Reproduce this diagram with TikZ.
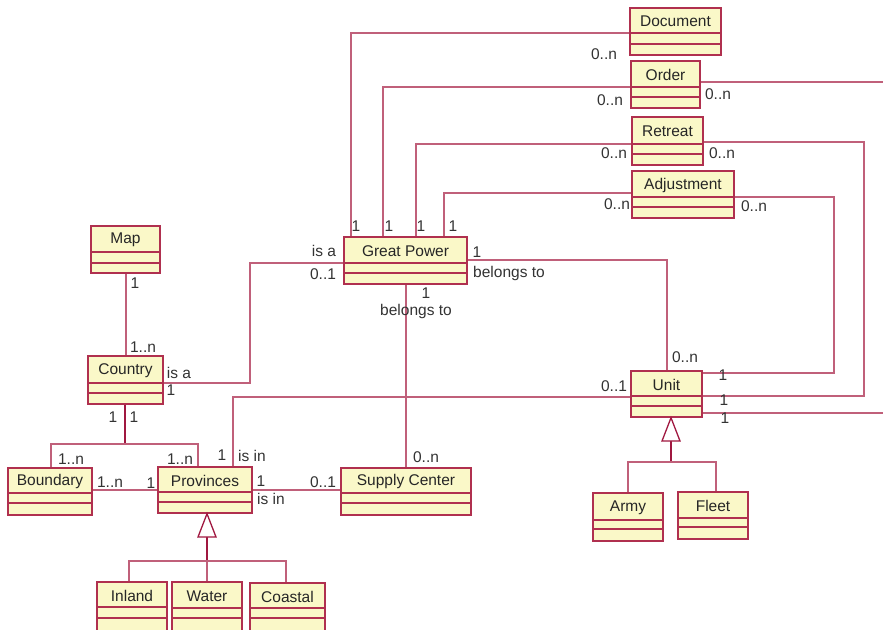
\documentclass[tikz,border=0pt]{standalone}
\usepackage{fontspec}
\setmainfont{Liberation Sans}
\usetikzlibrary{fit}
\definecolor{boxfill}{HTML}{FAF8C8}
\definecolor{boxline}{HTML}{B0304F}
\definecolor{conn}{HTML}{C0607A}
\definecolor{thickc}{HTML}{A01840}
\tikzset{
  boxbg/.style={fill=boxfill},
  sepline/.style={draw=boxline, line width=1.3pt},
  boxframe/.style={draw=boxline, line width=1.5pt, inner sep=0pt, fill=none},
  title/.style={font=\fontsize{15.5}{18}\selectfont, inner sep=0pt, text=black!85},
  lbl/.style={font=\fontsize{15.5}{18}\selectfont, inner sep=0pt, text=black!80},
  link/.style={draw=conn, line width=1.2pt},
  thicklink/.style={draw=thickc, line width=2.6pt},
  gentri/.style={draw=thickc, line width=1.3pt, fill=white},
}
\newcommand\umlbox[8]{%
  \path[boxbg] (#2,#3) rectangle (#4,#5);
  \draw[sepline] (#2,#6) -- (#4,#6) (#2,#7) -- (#4,#7);
  \node[boxframe, fit={(#2,#3)(#4,#5)}] (#1) {};
  \node[title] (#1t) at ({(#2+#4)/2},{(#3+#6)/2+1}) {#8};
}
\begin{document}
\begin{tikzpicture}[x=1pt,y=-1pt]
\useasboundingbox[fill=white] (0,0) rectangle (883,629);
% connectors first
\draw[link] (630,33) -- (351,33) -- (351,237);
\draw[link] (631,87) -- (383,87) -- (383,237);
\draw[link] (632,144) -- (416,144) -- (416,237);
\draw[link] (632,193) -- (444,193) -- (444,237);
% boxes
\umlbox{doc}{630}{8}{721}{55}{33}{44}{Document}
\umlbox{order}{631}{61}{700}{108}{87}{97}{Order}
\umlbox{ret}{632}{117}{703}{165}{144}{154}{Retreat}
\umlbox{adj}{632}{171}{734}{218}{197}{207}{Adjustment}
\umlbox{gp}{344}{237}{467}{284}{263}{273}{Great Power}
\umlbox{map}{91}{226}{160}{273}{252}{263}{Map}
\umlbox{country}{88}{356}{163}{404}{383}{393}{Country}
\umlbox{unit}{631}{371}{702}{417}{396}{406}{Unit}
\umlbox{bnd}{8}{468}{92}{515}{493}{503}{Boundary}
\umlbox{prov}{158}{467}{252}{513}{492}{502}{Provinces}
\umlbox{sc}{341}{468}{471}{515}{493}{503}{Supply Center}
\umlbox{inland}{97}{582}{167}{640}{607}{618}{Inland}
\umlbox{water}{172}{582}{242}{640}{608}{618}{Water}
\umlbox{coastal}{250}{583}{325}{640}{608}{618}{Coastal}
\umlbox{army}{593}{493}{663}{541}{520}{529}{Army}
\umlbox{fleet}{678}{492}{748}{539}{518}{527}{Fleet}
\coordinate (orderR) at (883,82);
\coordinate (unitR) at (883,413);
% connectors between named boxes
\draw[link] (order.east |- 0,82) -- (orderR);
\draw[link] (ret.east |- 0,142) -- (864,142) -- (864,396) -- (unit.east |- 0,396);
\draw[link] (adj.east |- 0,197) -- (834,197) -- (834,373) -- (unit.east |- 0,373);
\draw[link] (unit.east |- 0,413) -- (unitR);
\draw[link] (gp.east |- 0,260) -| (unit.north -| 667,0);
\draw[link] (gp.south -| 406,0) -- (sc.north -| 406,0);
\draw[link] (gp.west |- 0,263) -- (250,263) -- (250,383) -- (country.east |- 0,383);
\draw[link] (map.south -| 126,0) -- (country.north -| 126,0);
\draw[thicklink] (country.south -| 125,0) -- (125,444);
\draw[link] (bnd.north -| 51,0) -- (51,444) -- (198,444) -- (prov.north -| 198,0);
\draw[link] (bnd.east |- 0,490) -- (prov.west |- 0,490);
\draw[link] (prov.east |- 0,490) -- (sc.west |- 0,490);
\draw[link] (unit.west |- 0,397) -- (233,397) -- (prov.north -| 233,0);
% generalization: provinces
\draw[thicklink] (207,537) -- (207,561);
\draw[link] (inland.north -| 129,0) -- (129,561) -- (286,561) -- (coastal.north -| 286,0);
\draw[link] (water.north -| 207,0) -- (207,561);
\draw[gentri] (prov.south -| 207,0) -- (216,537) -- (198,537) -- cycle;
% generalization: unit
\draw[thicklink] (671,441) -- (671,462);
\draw[link] (army.north -| 628,0) -- (628,462) -- (716,462) -- (fleet.north -| 716,0);
\draw[gentri] (unit.south -| 671,0) -- (680,441) -- (662,441) -- cycle;
% labels
\node[lbl] (l1) at (604,54) {0..n};
\node[lbl] (l2) at (610,100) {0..n};
\node[lbl] (l3) at (718,94) {0..n};
\node[lbl] (l4) at (614,153) {0..n};
\node[lbl] (l5) at (722,153) {0..n};
\node[lbl] (l6) at (617,204) {0..n};
\node[lbl] (l7) at (754,206) {0..n};
\node[lbl] (l8) at (356,226) {1};
\node[lbl] (l9) at (389,226) {1};
\node[lbl] (l10) at (421,226) {1};
\node[lbl] (l11) at (453,226) {1};
\node[lbl] (l12) at (324,251) {is a};
\node[lbl] (l13) at (323,274) {0..1};
\node[lbl] (l14) at (477,252) {1};
\node[lbl] (l15) at (509,273) {belongs to};
\node[lbl] (l16) at (426,293) {1};
\node[lbl] (l17) at (416,311) {belongs to};
\node[lbl] (l18) at (135,283) {1};
\node[lbl] (l19) at (143,347) {1..n};
\node[lbl] (l20) at (179,373) {is a};
\node[lbl] (l21) at (171,390) {1};
\node[lbl] (l22) at (113,417) {1};
\node[lbl] (l23) at (134,417) {1};
\node[lbl] (l24) at (71,459) {1..n};
\node[lbl] (l25) at (180,459) {1..n};
\node[lbl] (l26) at (110,482) {1..n};
\node[lbl] (l27) at (151,483) {1};
\node[lbl] (l28) at (261,481) {1};
\node[lbl] (l29) at (271,499) {is in};
\node[lbl] (l30) at (323,482) {0..1};
\node[lbl] (l31) at (222,455) {1};
\node[lbl] (l32) at (252,456) {is in};
\node[lbl] (l33) at (426,457) {0..n};
\node[lbl] (l34) at (685,357) {0..n};
\node[lbl] (l35) at (614,386) {0..1};
\node[lbl] (l36) at (723,375) {1};
\node[lbl] (l37) at (724,400) {1};
\node[lbl] (l38) at (725,418) {1};
\end{tikzpicture}
\end{document}
